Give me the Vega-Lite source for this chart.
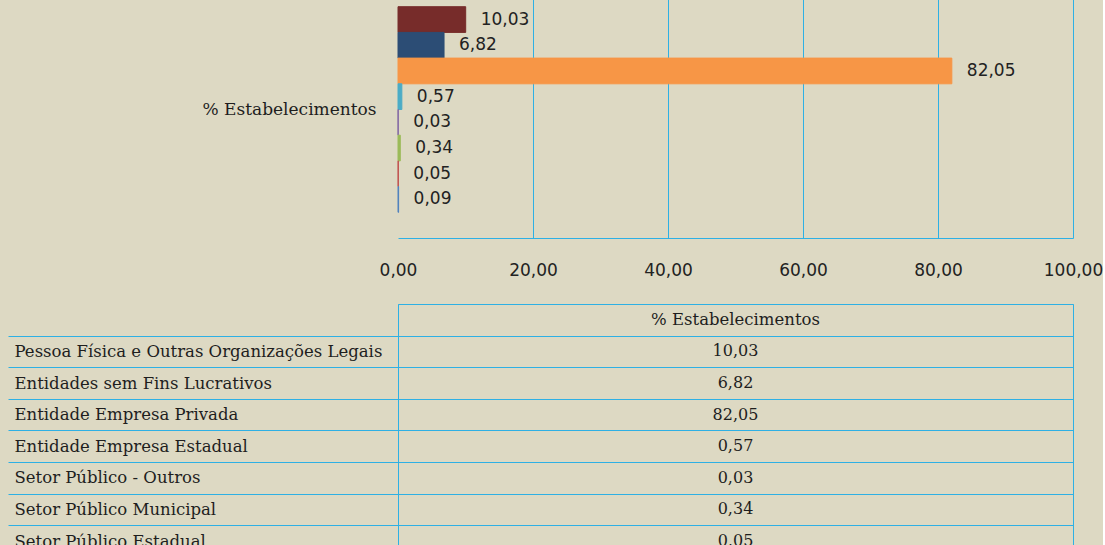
{
  "$schema": "https://vega.github.io/schema/vega-lite/v6.json",
  "padding": {"left": 7, "top": -19, "right": 0, "bottom": 0},
  "background": "#DDD9C3",
  "spacing": 17,
  "config": {
    "view": {"stroke": null},
    "locale": {"number": {"decimal": ",", "thousands": ".", "grouping": [3], "currency": ["R$", ""]}}
  },
  "datasets": {
    "dados": [
      {"serie": "Pessoa Física e Outras Organizações Legais", "valor": 10.03},
      {"serie": "Entidades sem Fins Lucrativos", "valor": 6.82},
      {"serie": "Entidade Empresa Privada", "valor": 82.05},
      {"serie": "Entidade Empresa Estadual", "valor": 0.57},
      {"serie": "Setor Público - Outros", "valor": 0.03},
      {"serie": "Setor Público Municipal", "valor": 0.34},
      {"serie": "Setor Público Estadual", "valor": 0.05},
      {"serie": "Setor Público Federal", "valor": 0.09}
    ],
    "cabecalho": [
      {"serie": "hdr", "h": "% Estabelecimentos"}
    ]
  },
  "vconcat": [
    {
      "width": 675,
      "height": 257,
      "data": {"name": "dados"},
      "encoding": {
        "y": {
          "field": "serie", "type": "nominal",
          "scale": {
            "domain": ["Pessoa Física e Outras Organizações Legais", "Entidades sem Fins Lucrativos", "Entidade Empresa Privada", "Entidade Empresa Estadual", "Setor Público - Outros", "Setor Público Municipal", "Setor Público Estadual", "Setor Público Federal"],
            "paddingInner": 0, "paddingOuter": 1.1
          },
          "axis": {
            "labels": false, "ticks": false, "domain": false, "grid": false,
            "title": "% Estabelecimentos", "titleAngle": 0, "titleAlign": "right", "titleBaseline": "middle",
            "titleFont": "DejaVu Serif", "titleFontSize": 17, "titleFontWeight": "normal",
            "titleColor": "#1E1E1E", "titlePadding": 22
          }
        },
        "x": {
          "field": "valor", "type": "quantitative",
          "scale": {"domain": [0, 100], "nice": false},
          "axis": {
            "values": [0, 20, 40, 60, 80, 100], "format": ",.2f", "title": null,
            "grid": true,
            "gridColor": {"condition": {"test": "datum.value === 0", "value": "transparent"}, "value": "#2EB0E4"},
            "ticks": false, "tickSize": 0, "domainColor": "#2EB0E4",
            "labelFont": "DejaVu Sans", "labelFontSize": 17, "labelColor": "#222222",
            "labelPadding": 24, "labelFlush": false
          }
        }
      },
      "layer": [
        {
          "mark": {"type": "bar", "strokeWidth": 1},
          "encoding": {
            "color": {
              "field": "serie", "type": "nominal", "legend": null,
              "scale": {
                "domain": ["Pessoa Física e Outras Organizações Legais", "Entidades sem Fins Lucrativos", "Entidade Empresa Privada", "Entidade Empresa Estadual", "Setor Público - Outros", "Setor Público Municipal", "Setor Público Estadual", "Setor Público Federal"],
                "range": ["#772C2A", "#2C4D75", "#F79646", "#4BACC6", "#8064A2", "#9BBB59", "#C0504D", "#4F81BD"]
              }
            },
            "stroke": {
              "field": "serie", "type": "nominal", "legend": null,
              "scale": {
                "domain": ["Pessoa Física e Outras Organizações Legais", "Entidades sem Fins Lucrativos", "Entidade Empresa Privada", "Entidade Empresa Estadual", "Setor Público - Outros", "Setor Público Municipal", "Setor Público Estadual", "Setor Público Federal"],
                "range": ["#772C2A", "#2C4D75", "#F79646", "#4BACC6", "#8064A2", "#9BBB59", "#C0504D", "#4F81BD"]
              }
            }
          }
        },
        {
          "mark": {"type": "text", "align": "left", "baseline": "middle", "dx": 15, "font": "DejaVu Sans", "fontSize": 17, "color": "#222222"},
          "encoding": {"text": {"field": "valor", "type": "quantitative", "format": ",.2f"}}
        }
      ]
    },
    {
      "width": 675,
      "height": 284.4,
      "view": {"stroke": "#2EB0E4", "strokeWidth": 1},
      "encoding": {
        "x": {"datum": 50, "type": "quantitative", "scale": {"domain": [0, 100]}, "axis": null},
        "y": {
          "field": "serie", "type": "nominal",
          "scale": {
            "domain": ["hdr", "Pessoa Física e Outras Organizações Legais", "Entidades sem Fins Lucrativos", "Entidade Empresa Privada", "Entidade Empresa Estadual", "Setor Público - Outros", "Setor Público Municipal", "Setor Público Estadual", "Setor Público Federal"],
            "paddingInner": 0, "paddingOuter": 0
          },
          "axis": {
            "title": null, "domain": false,
            "grid": true, "gridColor": "#2EB0E4", "gridWidth": 1,
            "tickBand": "extent", "ticks": true, "tickSize": 390, "tickWidth": 1,
            "tickColor": "#2EB0E4",
            "tickOpacity": {"condition": {"test": "datum.index < 0 || datum.value == null", "value": 0}, "value": 1},
            "labelAlign": "left", "labelBaseline": "middle", "labelPadding": -6, "labelLimit": 420,
            "labelFont": "DejaVu Serif", "labelFontSize": 16.5, "labelColor": "#1E1E1E",
            "labelExpr": "datum.value === 'hdr' ? '' : datum.value"
          }
        }
      },
      "layer": [
        {
          "data": {"name": "cabecalho"},
          "mark": {"type": "text", "font": "DejaVu Serif", "fontSize": 16.5, "color": "#1E1E1E"},
          "encoding": {"text": {"field": "h", "type": "nominal"}}
        },
        {
          "data": {"name": "dados"},
          "mark": {"type": "text", "font": "DejaVu Serif", "fontSize": 16, "color": "#1E1E1E"},
          "encoding": {"text": {"field": "valor", "type": "quantitative", "format": ",.2f"}}
        }
      ]
    }
  ]
}
